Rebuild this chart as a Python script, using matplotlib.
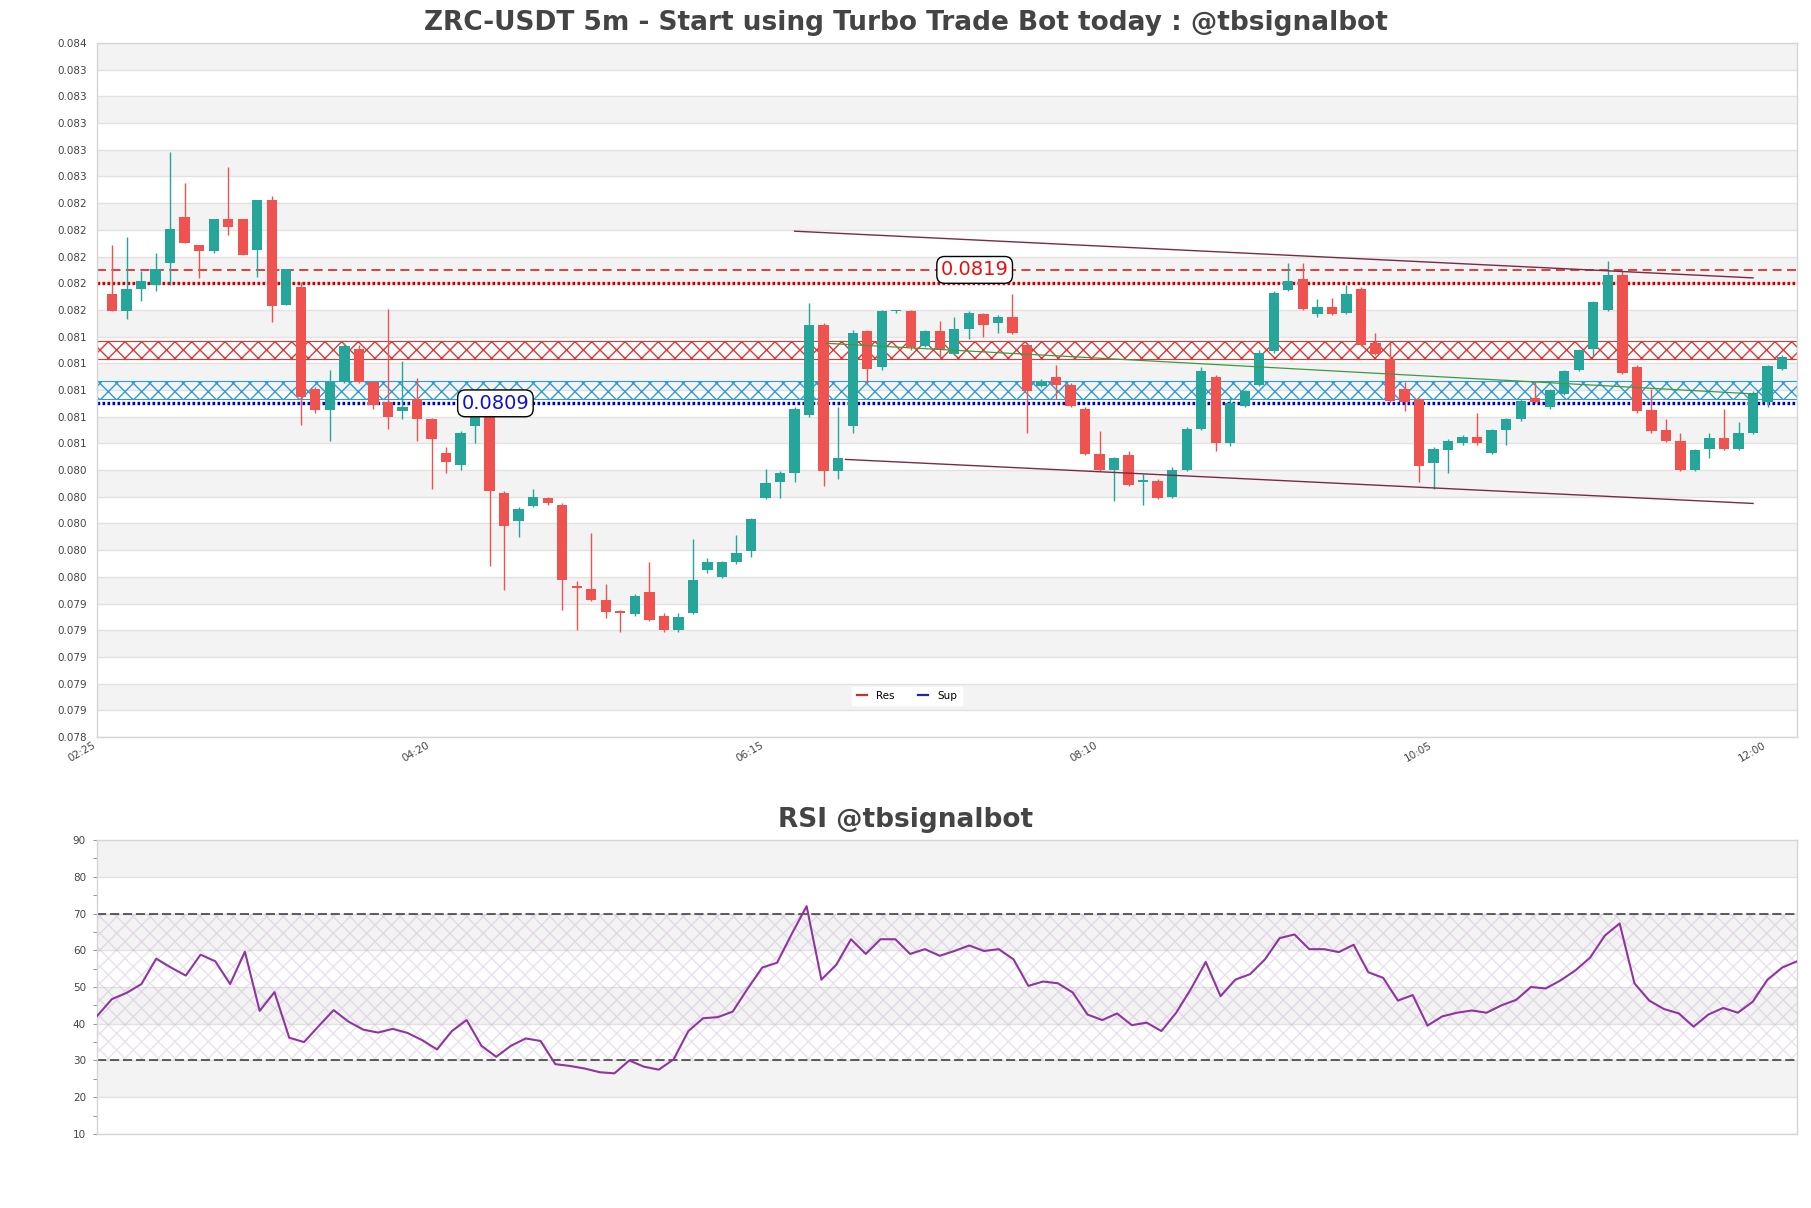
"""
Candles ZRC-USDT 5m + RSI, style tbsignalbot.
-> écrit out.png
"""
import numpy as np
import pandas as pd
import matplotlib
matplotlib.use("Agg")
import matplotlib.pyplot as plt
from matplotlib.lines import Line2D
from matplotlib.ticker import FormatStrFormatter, MultipleLocator, FixedLocator

# =============================================================================
# DONNÉES
# =============================================================================
START = "2024-01-01 02:30"

OPEN = [0.08172, 0.08159, 0.08176, 0.08179, 0.08195, 0.0823, 0.08209, 0.08204, 0.08228, 0.08228,
        0.08205, 0.08242, 0.08164, 0.08177, 0.08101, 0.08085, 0.08106, 0.08131, 0.08106, 0.08091,
        0.08084, 0.08093, 0.08078, 0.08053, 0.08044, 0.08073, 0.0808, 0.08023, 0.08002, 0.08013,
        0.08019, 0.08014, 0.07953, 0.07951, 0.07943, 0.07934, 0.07932, 0.07949, 0.07931, 0.0792,
        0.07933, 0.07965, 0.0796, 0.07971, 0.07979, 0.08019, 0.08031, 0.08038, 0.08081, 0.08149,
        0.08039, 0.08073, 0.08144, 0.08117, 0.08159, 0.08159, 0.08133, 0.08144, 0.08127, 0.08146,
        0.08157, 0.0815, 0.08155, 0.08134, 0.08103, 0.0811, 0.08104, 0.08086, 0.08052, 0.0804,
        0.08051, 0.08031, 0.08032, 0.0802, 0.0804, 0.08071, 0.0811, 0.0806, 0.08088, 0.08104,
        0.08129, 0.08175, 0.08183, 0.08157, 0.08162, 0.08158, 0.08176, 0.08135, 0.08123, 0.08101,
        0.08093, 0.08045, 0.08055, 0.0806, 0.08065, 0.08053, 0.0807, 0.08078, 0.08094, 0.08087,
        0.08097, 0.08115, 0.08131, 0.0816, 0.08186, 0.08117, 0.08085, 0.0807, 0.08062, 0.0804,
        0.08056, 0.08064, 0.08056, 0.08068, 0.08091, 0.08116]
HIGH = [0.08209, 0.08215, 0.08189, 0.08203, 0.08278, 0.08255, 0.08209, 0.08228, 0.08267, 0.08228,
        0.08242, 0.08245, 0.08191, 0.08181, 0.08102, 0.08115, 0.08135, 0.08134, 0.08107, 0.08161,
        0.08122, 0.08109, 0.08079, 0.08057, 0.08069, 0.08085, 0.08087, 0.08024, 0.08012, 0.08026,
        0.0802, 0.08015, 0.07957, 0.07993, 0.07955, 0.07935, 0.07947, 0.07971, 0.07933, 0.07933,
        0.07988, 0.07974, 0.07972, 0.07991, 0.08004, 0.08041, 0.08039, 0.08087, 0.08165, 0.0815,
        0.08087, 0.08145, 0.08145, 0.0816, 0.0816, 0.0816, 0.08145, 0.08152, 0.08155, 0.08159,
        0.08158, 0.08156, 0.08172, 0.08135, 0.08108, 0.08119, 0.08105, 0.08087, 0.08069, 0.0805,
        0.08054, 0.08037, 0.08033, 0.08042, 0.08072, 0.08117, 0.08111, 0.08095, 0.081, 0.0813,
        0.08174, 0.08195, 0.08195, 0.08168, 0.08169, 0.08179, 0.08177, 0.08143, 0.08135, 0.08106,
        0.08094, 0.08057, 0.08063, 0.08066, 0.08083, 0.08071, 0.08079, 0.08093, 0.08106, 0.08101,
        0.08115, 0.08131, 0.08167, 0.08197, 0.08189, 0.08119, 0.08101, 0.08078, 0.08068, 0.08056,
        0.08068, 0.08086, 0.08076, 0.08099, 0.08119, 0.08126]
LOW = [0.08159, 0.08153, 0.08167, 0.08174, 0.08179, 0.0821, 0.08184, 0.08203, 0.08216, 0.08201,
       0.08185, 0.08151, 0.08164, 0.08074, 0.08083, 0.08062, 0.08105, 0.08105, 0.08086, 0.08071,
       0.08078, 0.08062, 0.08026, 0.08038, 0.0804, 0.0806, 0.07968, 0.0795, 0.0799, 0.08012,
       0.08014, 0.07935, 0.0792, 0.07942, 0.07929, 0.07919, 0.07931, 0.07927, 0.07919, 0.07919,
       0.07932, 0.07963, 0.07959, 0.0797, 0.07975, 0.08018, 0.08019, 0.08031, 0.0808, 0.08028,
       0.08033, 0.08068, 0.08105, 0.08115, 0.08158, 0.0813, 0.08132, 0.08125, 0.08126, 0.08138,
       0.0814, 0.08143, 0.08142, 0.08068, 0.08102, 0.08093, 0.08087, 0.08051, 0.08039, 0.08017,
       0.08028, 0.08014, 0.08018, 0.08019, 0.08039, 0.0807, 0.08054, 0.08058, 0.08087, 0.08103,
       0.08128, 0.08174, 0.0816, 0.08155, 0.08156, 0.08157, 0.08133, 0.08126, 0.08091, 0.08084,
       0.08031, 0.08026, 0.08038, 0.08059, 0.08059, 0.08052, 0.08059, 0.08077, 0.0809, 0.08086,
       0.08096, 0.08114, 0.08125, 0.08159, 0.08112, 0.08083, 0.08068, 0.08061, 0.08039, 0.08039,
       0.08049, 0.08055, 0.08055, 0.08067, 0.08087, 0.08115]
CLOSE = [0.08159, 0.08176, 0.08182, 0.08191, 0.08221, 0.0821, 0.08204, 0.08228, 0.08222, 0.08201,
         0.08242, 0.08163, 0.08191, 0.08095, 0.08085, 0.08106, 0.08133, 0.08106, 0.08089, 0.0808,
         0.08087, 0.08078, 0.08063, 0.08046, 0.08068, 0.0808, 0.08024, 0.07998, 0.08011, 0.0802,
         0.08015, 0.07958, 0.07952, 0.07943, 0.07934, 0.07933, 0.07946, 0.07928, 0.0792, 0.0793,
         0.07958, 0.07971, 0.07971, 0.07978, 0.08003, 0.0803, 0.08038, 0.08086, 0.08149, 0.08039,
         0.08049, 0.08143, 0.08116, 0.08159, 0.0816, 0.08132, 0.08144, 0.08131, 0.08146, 0.08158,
         0.08149, 0.08155, 0.08143, 0.08099, 0.08107, 0.08104, 0.08088, 0.08052, 0.0804, 0.08049,
         0.08029, 0.08032, 0.08019, 0.0804, 0.08071, 0.08114, 0.0806, 0.0809, 0.08099, 0.08128,
         0.08173, 0.08182, 0.08161, 0.08162, 0.08157, 0.08172, 0.08134, 0.08127, 0.08092, 0.08091,
         0.08043, 0.08056, 0.08062, 0.08065, 0.0806, 0.0807, 0.08078, 0.08092, 0.08091, 0.081,
         0.08114, 0.0813, 0.08166, 0.08186, 0.08113, 0.08084, 0.08069, 0.08062, 0.0804, 0.08055,
         0.08064, 0.08056, 0.08068, 0.08098, 0.08118, 0.08125]

RSI = [42.1, 46.7, 48.4, 50.8, 57.7, 55.3, 53.1, 58.8, 57.0, 50.8, 59.6, 43.5, 48.6, 36.2, 35.0,
       39.4, 43.7, 40.6, 38.4, 37.6, 38.6, 37.5, 35.5, 33.0, 38.0, 41.0, 34.0, 31.0, 34.0, 36.0,
       35.3, 29.0, 28.5, 27.8, 26.8, 26.5, 30.0, 28.3, 27.5, 30.3, 38.0, 41.5, 41.8, 43.3, 49.5,
       55.3, 56.6, 64.5, 72.0, 52.0, 56.0, 63.0, 59.0, 63.0, 63.0, 59.0, 60.3, 58.5, 59.8, 61.3,
       59.8, 60.3, 57.5, 50.3, 51.5, 51.0, 48.5, 42.5, 41.0, 42.8, 39.6, 40.3, 38.0, 43.0, 49.5,
       56.8, 47.5, 52.0, 53.5, 57.5, 63.3, 64.3, 60.3, 60.3, 59.5, 61.5, 54.0, 52.5, 46.3, 47.8,
       39.5, 42.0, 43.0, 43.6, 43.0, 45.0, 46.5, 50.0, 49.6, 51.8, 54.5, 58.0, 64.0, 67.3, 51.0,
       46.3, 44.0, 42.8, 39.2, 42.5, 44.3, 43.0, 46.0, 52.0, 55.3, 57.0]

# niveaux
RES_MAIN = 0.0819     # ligne tiretée + étiquette
RES_DOT = 0.0818
SUP_DOT = 0.0809
RES_ZONE = (0.08123, 0.08137)
SUP_ZONE = (0.08093, 0.08107)

# lignes de tendance (index bougie, prix)
TREND_UP = ([47.0, 113.0], [0.08219, 0.08184])
TREND_LOW = ([50.5, 113.0], [0.08048, 0.08015])
TREND_MID = ([49.2, 113.2], [0.08135, 0.08097])

Y_MIN, Y_MAX, Y_STEP = 0.0784, 0.0836, 0.0002

GREEN = "#26a69a"
RED = "#ef5350"
BAND = "#f3f3f3"
GRID = "#e2e2e2"
SPINE = "#d6d6d6"
TXT = "#444444"


def style_axes(ax):
    for s in ax.spines.values():
        s.set_color(SPINE)
        s.set_linewidth(1)


def main():
    fig = plt.figure(figsize=(18.11, 12.08), dpi=100)
    ax = fig.add_axes([0.0536, 0.3899, 0.9387, 0.5745])
    ax_rsi = fig.add_axes([0.0536, 0.0613, 0.9387, 0.2433])

    o = np.array(OPEN)
    h = np.array(HIGH)
    l = np.array(LOW)
    c = np.array(CLOSE)
    x = np.arange(len(o))
    times = pd.date_range(START, periods=len(o), freq="5min")
    colors = np.where(c >= o, GREEN, RED)

    # --- bandes alternées + grille
    yt = np.round(np.arange(Y_MIN, Y_MAX + Y_STEP / 2, Y_STEP), 6)
    for k in range(len(yt) - 1):
        if k % 2 == 1:
            ax.axhspan(yt[k], yt[k + 1], color=BAND, zorder=0, lw=0)
    for v in yt:
        ax.axhline(v, color=GRID, lw=1, zorder=0.5)

    # --- zones hachurées
    ax.axhspan(*RES_ZONE, facecolor="none", edgecolor="#e03535", hatch="xx",
               lw=0.8, zorder=1)
    ax.axhspan(*SUP_ZONE, facecolor="none", edgecolor="#2f9bd6", hatch="xx",
               lw=0.8, zorder=1)

    # --- niveaux
    ax.axhline(RES_MAIN, color="#e03030", lw=1.3, ls=(0, (5, 3)), zorder=1.5)
    ax.axhline(RES_DOT, color="#d00000", lw=2.4, ls=(0, (0.8, 0.7)), zorder=1.5)
    ax.axhline(SUP_DOT, color="#0000c8", lw=2.4, ls=(0, (0.8, 0.7)), zorder=1.5)

    # --- tendances
    ax.plot(*TREND_UP, color="#7a2a48", lw=1, zorder=4)
    ax.plot(*TREND_LOW, color="#7a2a48", lw=1, zorder=4)
    ax.plot(*TREND_MID, color="#3d9a3d", lw=0.9, zorder=4)

    # --- bougies
    body_lo = np.minimum(o, c)
    body_h = np.maximum(np.abs(c - o), 0.000012)
    ax.vlines(x, l, h, color=colors, lw=1, zorder=2)
    ax.bar(x, body_h, bottom=body_lo, width=0.71, color=colors, lw=0, zorder=3)

    # --- étiquettes
    bbox = dict(boxstyle="round,pad=0.2,rounding_size=0.4", fc="white", ec="black", lw=1)
    ax.text(59.4, RES_MAIN, f"{RES_MAIN:.4f}", color="#e81010", fontsize=14,
            ha="center", va="center", bbox=bbox, zorder=6)
    ax.text(26.4, SUP_DOT, f"{SUP_DOT:.4f}", color="#1010d0", fontsize=14,
            ha="center", va="center", bbox=bbox, zorder=6)

    ax.set_xlim(-1.03, len(o) - 1 + 1.03)
    ax.set_ylim(Y_MIN, Y_MAX)
    ax.yaxis.set_major_locator(FixedLocator(yt))
    ax.yaxis.set_major_formatter(FormatStrFormatter("%.3f"))
    tick_idx = np.arange(-1, len(o), 23)
    ax.set_xticks(tick_idx)
    ax.set_xticklabels([(times[0] + pd.Timedelta(minutes=5 * int(i))).strftime("%H:%M")
                        for i in tick_idx], rotation=30, ha="right")
    ax.tick_params(axis="both", length=0, labelsize=7.5, labelcolor="#444444")
    ax.tick_params(axis="y", pad=7)
    ax.tick_params(axis="x", pad=2)
    style_axes(ax)

    handles = [Line2D([], [], color="#d42a2a", lw=1.6), Line2D([], [], color="#2424b0", lw=1.6)]
    leg = ax.legend(handles, ["Res", "Sup"], ncol=2, fontsize=7.5, loc="center",
                    bbox_to_anchor=(907 / 1811, 1 - 696 / 1208),
                    bbox_transform=fig.transFigure, handlelength=1.0,
                    handletextpad=0.9, columnspacing=2.2, frameon=True,
                    framealpha=1, edgecolor="white", fancybox=False)
    leg.set_zorder(7)

    # --- RSI
    r = np.array(RSI)
    for lo in range(10, 90, 10):
        if (lo // 10) % 2 == 0:
            ax_rsi.axhspan(lo, lo + 10, color=BAND, zorder=0, lw=0)
    for v in range(10, 100, 10):
        ax_rsi.axhline(v, color=GRID, lw=1, zorder=0.5)
    ax_rsi.fill_between([0, len(r) - 1], 30, 70, facecolor="none",
                        edgecolor="#b89cc4", hatch="xx", lw=0, alpha=0.3, zorder=1)
    ax_rsi.axhline(70, color="#333333", lw=1.1, ls=(0, (6, 2.5)), zorder=2)
    ax_rsi.axhline(30, color="#333333", lw=1.1, ls=(0, (6, 2.5)), zorder=2)
    ax_rsi.plot(np.arange(len(r)), r, color="#8f35a0", lw=1.5, zorder=3)

    ax_rsi.set_xlim(0, len(r) - 1)
    ax_rsi.set_ylim(10, 90)
    ax_rsi.yaxis.set_major_locator(MultipleLocator(10))
    ax_rsi.yaxis.set_minor_locator(MultipleLocator(5))
    ax_rsi.set_xticks([])
    ax_rsi.tick_params(axis="y", which="both", length=3, width=0.8, color="#999999",
                       labelsize=7.5, labelcolor="#444444", pad=5)
    style_axes(ax_rsi)

    # --- titres
    fig.text(0.5, 1 - 23 / 1208, "ZRC-USDT 5m - Start using Turbo Trade Bot today : @tbsignalbot",
             ha="center", va="center", fontsize=19, fontweight="bold", color=TXT)
    fig.text(0.5, 1 - 820 / 1208, "RSI @tbsignalbot",
             ha="center", va="center", fontsize=19, fontweight="bold", color=TXT)

    fig.savefig("out.png", dpi=100)


if __name__ == "__main__":
    main()
